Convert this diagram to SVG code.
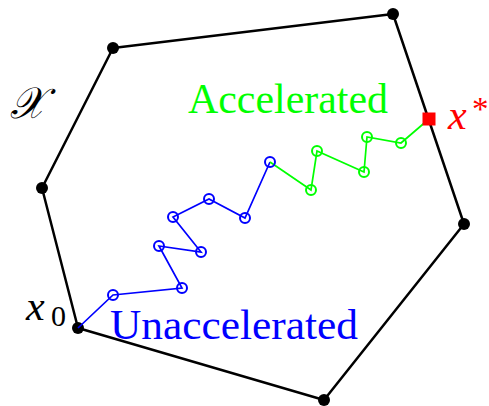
<svg xmlns="http://www.w3.org/2000/svg" width="489" height="406" viewBox="0 0 489 406">
<style>
.edge{fill:none;stroke:#000;stroke-width:2.5;stroke-linejoin:round}
.vtx{fill:#000}
.blue{fill:none;stroke:#0000ff;stroke-width:1.7}
.green{fill:none;stroke:#00ff00;stroke-width:1.7}
.cb{fill:none;stroke:#0000ff;stroke-width:2}
.cg{fill:none;stroke:#00ff00;stroke-width:2}
.lbl{font-family:"Liberation Serif","DejaVu Serif",serif}
.it{font-family:"Liberation Serif","DejaVu Serif",serif;font-style:italic}
</style>
<rect width="489" height="406" fill="#fff"/>
<g id="set">
<polygon class="edge" points="113,48 393,14 464,224 324,400 78,328 42,188"/>
</g>
<g id="vertices">
<circle class="vtx" cx="113" cy="48" r="6"/>
<circle class="vtx" cx="393" cy="14" r="6"/>
<circle class="vtx" cx="464" cy="224" r="6"/>
<circle class="vtx" cx="324" cy="400" r="6"/>
<circle class="vtx" cx="78" cy="328" r="6"/>
<circle class="vtx" cx="42" cy="188" r="6"/>
</g>
<g id="connectors">
<polyline class="blue" points="78,328 113,295 182,288 159,246 201,252 173,217 209,199 245,218 270,162"/>
<polyline class="green" points="270,162 311,190 317,151 364,172 367,137 401,143 429,119"/>
</g>
<g id="unaccelerated-iterates">
<circle class="cb" cx="113" cy="295" r="5"/>
<circle class="cb" cx="182" cy="288" r="5"/>
<circle class="cb" cx="159" cy="246" r="5"/>
<circle class="cb" cx="201" cy="252" r="5"/>
<circle class="cb" cx="173" cy="217" r="5"/>
<circle class="cb" cx="209" cy="199" r="5"/>
<circle class="cb" cx="245" cy="218" r="5"/>
<circle class="cb" cx="270" cy="162" r="5"/>
</g>
<g id="accelerated-iterates">
<circle class="cg" cx="311" cy="190" r="5"/>
<circle class="cg" cx="317" cy="151" r="5"/>
<circle class="cg" cx="364" cy="172" r="5"/>
<circle class="cg" cx="367" cy="137" r="5"/>
<circle class="cg" cx="401" cy="143" r="5"/>
</g>
<g id="optimum">
<rect x="422.5" y="112.5" width="13" height="13" fill="#ff0000"/>
<text class="it" x="448" y="129" font-size="42" fill="#ff0000">x</text>
<text class="lbl" x="472" y="120" font-size="33" fill="#ff0000">*</text>
</g>
<g id="start">
<text class="it" x="26" y="320" font-size="42" fill="#000">x</text>
<text class="lbl" x="51" y="326" font-size="30" fill="#000">0</text>
</g>
<g id="set-label">
<text class="it" x="10" y="118" font-size="44" fill="#000" textLength="35" lengthAdjust="spacingAndGlyphs">𝒳</text>
</g>
<g id="labels">
<text class="lbl" x="188" y="113" font-size="43" fill="#00ff00" textLength="200" lengthAdjust="spacingAndGlyphs">Accelerated</text>
<text class="lbl" x="110" y="339" font-size="43" fill="#0000ff" textLength="248" lengthAdjust="spacingAndGlyphs">Unaccelerated</text>
</g>
</svg>
